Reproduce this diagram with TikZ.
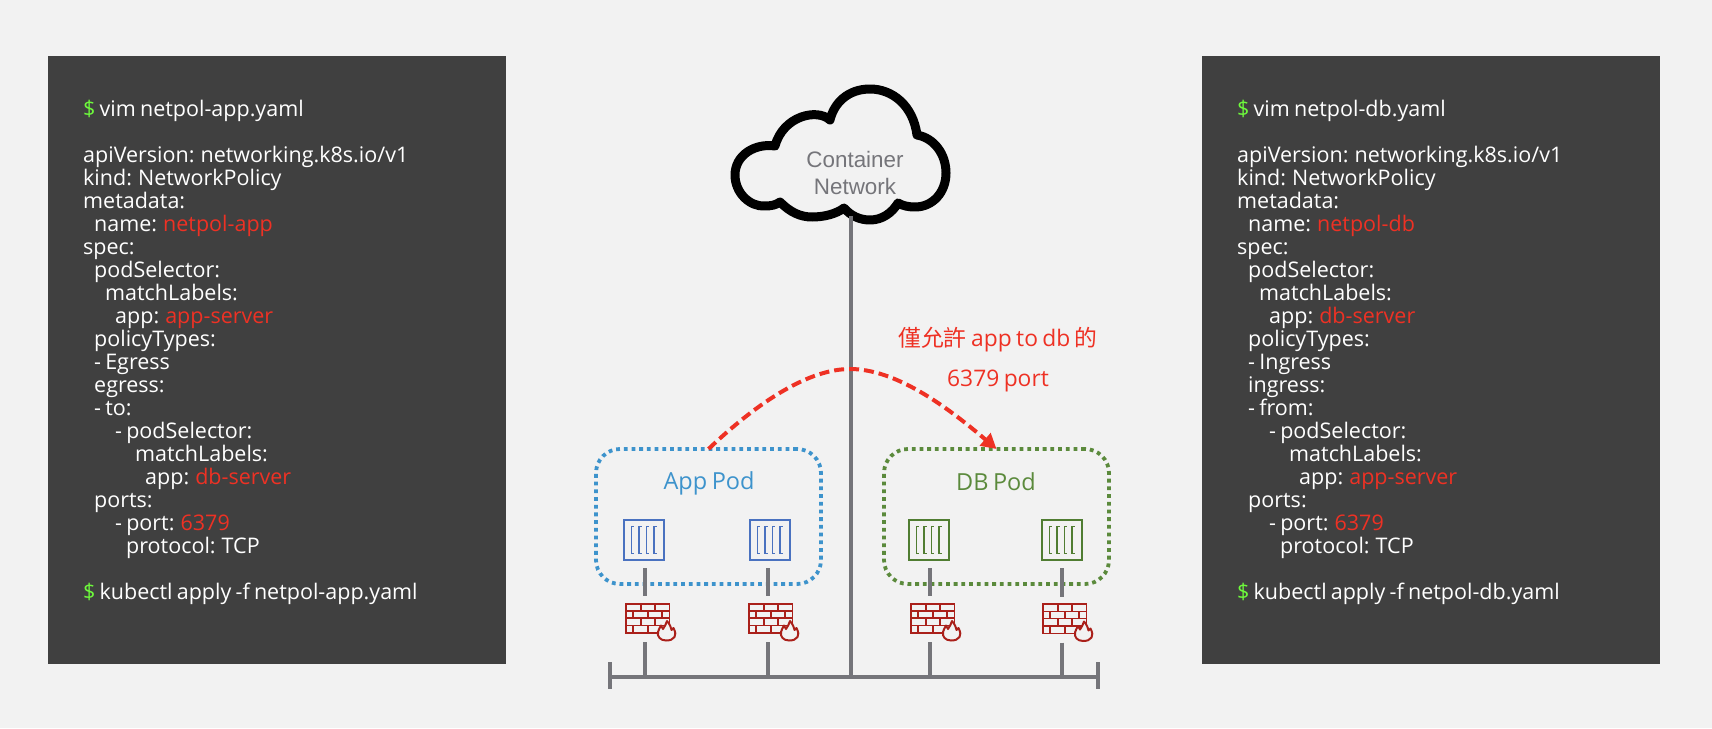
\documentclass[tikz,border=0pt]{standalone}
\usepackage{fontspec}
\setmainfont{Open Sans}[WordSpace=0.75]
\newfontfamily\cjkfont{Noto Sans CJK TC}
\newfontfamily\arialfont{Liberation Sans}
\usetikzlibrary{arrows.meta,positioning,calc}
\definecolor{pagebg}{RGB}{242,242,242}
\definecolor{panelbg}{RGB}{64,64,64}
\definecolor{wirecol}{RGB}{117,117,122}
\definecolor{alertred}{RGB}{238,49,36}
\definecolor{promptgreen}{RGB}{110,250,60}
\definecolor{appblue}{RGB}{61,147,204}
\definecolor{dbgreen}{RGB}{91,138,60}
\definecolor{boxblue}{RGB}{74,114,192}
\definecolor{boxgreen}{RGB}{80,125,50}
\definecolor{brickred}{RGB}{170,32,26}
\newcommand{\prompt}{\textcolor{promptgreen}{\$}}
\newcommand{\hot}[1]{\textcolor{alertred}{#1}}
\newcommand{\ind}[1]{\hspace*{#1pt}}
\tikzset{
  panel/.style={fill=panelbg, draw=none, minimum width=458pt, minimum height=608pt, inner sep=0pt},
  code/.style={text=white, align=left, inner sep=0pt, anchor=north west,
               font=\fontsize{21.5}{22.98}\selectfont},
  podbox/.style={draw, dash pattern=on 3.8pt off 3.9pt, line width=3.8pt, rounded corners=24pt,
                 inner sep=0pt, outer sep=0pt},
  podtext/.style={font=\fontsize{23.5}{28}\selectfont, inner sep=0pt},
  contbox/.style={draw, line width=1.4pt, minimum size=40pt, inner sep=0pt, path picture={
      \foreach \bx in {7.3,15,22.3,30}{
        \draw[line width=1.2pt] ($(path picture bounding box.north west)+(\bx+2.6,6.5)$)
          -- ++(-2.6,0) -- ++(0,27) -- ++(2.6,0);
      }}},
  fwbox/.style={minimum width=51pt, minimum height=39pt, inner sep=0pt, outer sep=0pt},
  firewall/.pic={
    \begin{scope}[brickred, line width=1.6pt]
      \draw[line width=1.9pt] (0.9,0.9) rectangle (44.5,30);
      \draw (0.9,8) -- (44.5,8) (0.9,15) -- (44.5,15) (0.9,22.5) -- (44.5,22.5);
      \draw (15.7,0.9) -- (15.7,8) (30,0.9) -- (30,8);
      \draw (8,8) -- (8,15) (22.7,8) -- (22.7,15) (37,8) -- (37,15);
      \draw (15.7,15) -- (15.7,22.5) (30,15) -- (30,22.5);
      \draw (8,22.5) -- (8,30) (22.7,22.5) -- (22.7,30);
      \draw[fill=pagebg, line width=2pt, line join=round] (41,37.5) .. controls (35,37.5) and (32,33) .. (33,29)
        .. controls (33.5,26) and (35,25) .. (36,22.5) .. controls (37,24) and (37.5,25) .. (38,26)
        .. controls (39,23) and (42,21) .. (42,18) .. controls (45,21) and (46,25) .. (46.5,27)
        .. controls (47.5,26.5) and (48,26) .. (48.5,25) .. controls (50.5,29) and (51,32) .. (49.5,34)
        .. controls (48,36.5) and (45,37.5) .. (41,37.5) -- cycle;
    \end{scope}},
  wire/.style={draw=wirecol, line width=3.8pt},
  gapwire/.style={wire, shorten <=7.5pt, shorten >=7pt},
  allowarrow/.style={draw=alertred, line width=4pt, dash pattern=on 10pt off 5pt,
                     -{Triangle[length=15pt,width=16pt,fill=alertred]}},
}

\begin{document}
\begin{tikzpicture}[x=1pt,y=-1pt]
\useasboundingbox[fill=pagebg] (0,0) rectangle (1712,728);

% ============================ yaml panels =============================
\node[panel] (apppanel) at (277,360) {};
\node[panel] (dbpanel) at (1431,360) {};

\node[code] (appcode) at (83,100) {%
\prompt{} vim netpol-app.yaml\\
\mbox{}\\
apiVersion: networking.k8s.io/v1\\
kind: NetworkPolicy\\
metadata:\\
\ind{11}name: \hot{netpol-app}\\
spec:\\
\ind{11}podSelector:\\
\ind{22}matchLabels:\\
\ind{32}app: \hot{app-server}\\
\ind{11}policyTypes:\\
\ind{11}- Egress\\
\ind{11}egress:\\
\ind{11}- to:\\
\ind{32}- podSelector:\\
\ind{52}matchLabels:\\
\ind{62}app: \hot{db-server}\\
\ind{11}ports:\\
\ind{32}- port: \hot{6379}\\
\ind{43}protocol: TCP\\
\mbox{}\\
\prompt{} kubectl apply -f netpol-app.yaml};

\node[code] (dbcode) at (1237,100) {%
\prompt{} vim netpol-db.yaml\\
\mbox{}\\
apiVersion: networking.k8s.io/v1\\
kind: NetworkPolicy\\
metadata:\\
\ind{11}name: \hot{netpol-db}\\
spec:\\
\ind{11}podSelector:\\
\ind{22}matchLabels:\\
\ind{32}app: \hot{db-server}\\
\ind{11}policyTypes:\\
\ind{11}- Ingress\\
\ind{11}ingress:\\
\ind{11}- from:\\
\ind{32}- podSelector:\\
\ind{52}matchLabels:\\
\ind{62}app: \hot{app-server}\\
\ind{11}ports:\\
\ind{32}- port: \hot{6379}\\
\ind{43}protocol: TCP\\
\mbox{}\\
\prompt{} kubectl apply -f netpol-db.yaml};

% ============================ pods ====================================
\node[podbox, draw=appblue, minimum width=225pt, minimum height=135pt] (apppod) at (708.5,516.5) {};
\node[podbox, draw=dbgreen, minimum width=225pt, minimum height=135pt] (dbpod) at (996.5,516.5) {};
\node[podtext, text=appblue] (applabel) at (709,483) {App Pod};
\node[podtext, text=dbgreen] (dblabel) at (996,482) {DB Pod};

\node[contbox, draw=boxblue] (appa) at (644,540) {};
\node[contbox, draw=boxblue] (appb) at (770,540) {};
\node[contbox, draw=boxgreen] (dba) at (929,540) {};
\node[contbox, draw=boxgreen] (dbb) at (1062,540) {};

\node[fwbox] (appfa) at (650.5,622.5) {};
\node[fwbox] (appfb) at (773.5,622.5) {};
\node[fwbox] (dbfa) at (935.5,622.5) {};
\node[fwbox] (dbfb) at (1067.5,623) {};
\foreach \fw in {appfa,appfb,dbfa,dbfb}
  \path (\fw.north west) pic {firewall};

% ============================ cloud ===================================
\draw[line width=9pt, line join=round] (775,146)
  .. controls (755,143) and (735,155) .. (735,175)
  .. controls (735,193) and (750,207) .. (765,206)
  .. controls (771,206) and (776,205) .. (780,202)
  .. controls (790,212) and (800,217) .. (812,217)
  .. controls (824,217) and (836,214) .. (844,208)
  .. controls (851,216) and (860,220) .. (870,220)
  .. controls (882,220) and (892,213) .. (898,203)
  .. controls (903,206) and (909,207) .. (915,207)
  .. controls (933,207) and (946,192) .. (946,173)
  .. controls (946,154) and (934,138) .. (917,135)
  .. controls (913,105) and (892,89) .. (870,89)
  .. controls (848,89) and (834,103) .. (830,120)
  .. controls (817,108) and (783,116) .. (775,146) -- cycle;
\node[align=center, text=wirecol, inner sep=0pt, font=\arialfont\fontsize{22.4}{27}\selectfont]
  (cloud) at (855,173) {Container\\Network};

% ============================ bus and trunk ===========================
\coordinate (busl) at (610,677);
\coordinate (busr) at (1098,677);
\coordinate (dropa) at (645,677);
\coordinate (dropb) at (768,677);
\coordinate (dropc) at (930,677);
\coordinate (dropd) at (1062,677);
\coordinate (trunkfoot) at (851,677);
\coordinate (cloudfoot) at (851,216);

\draw[wire] (busl) -- (busr);
\draw[wire] ($(busl)+(0,-15)$) -- ($(busl)+(0,12)$);
\draw[wire] ($(busr)+(0,-15)$) -- ($(busr)+(0,12)$);
\draw[wire] (cloudfoot) -- (trunkfoot);

\draw[gapwire] (dropa |- appa.south) -- (dropa |- appfa.north);
\draw[gapwire] (dropb |- appb.south) -- (dropb |- appfb.north);
\draw[gapwire] (dropc |- dba.south) -- (dropc |- dbfa.north);
\draw[gapwire] (dropd |- dbb.south) -- (dropd |- dbfb.north);
\draw[wire] (dropa |- appfa.south) -- (dropa);
\draw[wire] (dropb |- appfb.south) -- (dropb);
\draw[wire] (dropc |- dbfa.south) -- (dropc);
\draw[wire] (dropd |- dbfb.south) -- (dropd);

% ============================ allowed flow ============================
\draw[allowarrow] (apppod.north) .. controls (760,400) and (810,369) .. (850,369)
  .. controls (895,369) and (945,405) .. (dbpod.north);
\node[align=center, text=alertred, inner sep=0pt, font=\fontsize{22.8}{40}\selectfont]
  (allowlabel) at (998,360) {{\cjkfont 僅允許} app to db {\cjkfont 的}\\6379 port};

\end{tikzpicture}
\end{document}
